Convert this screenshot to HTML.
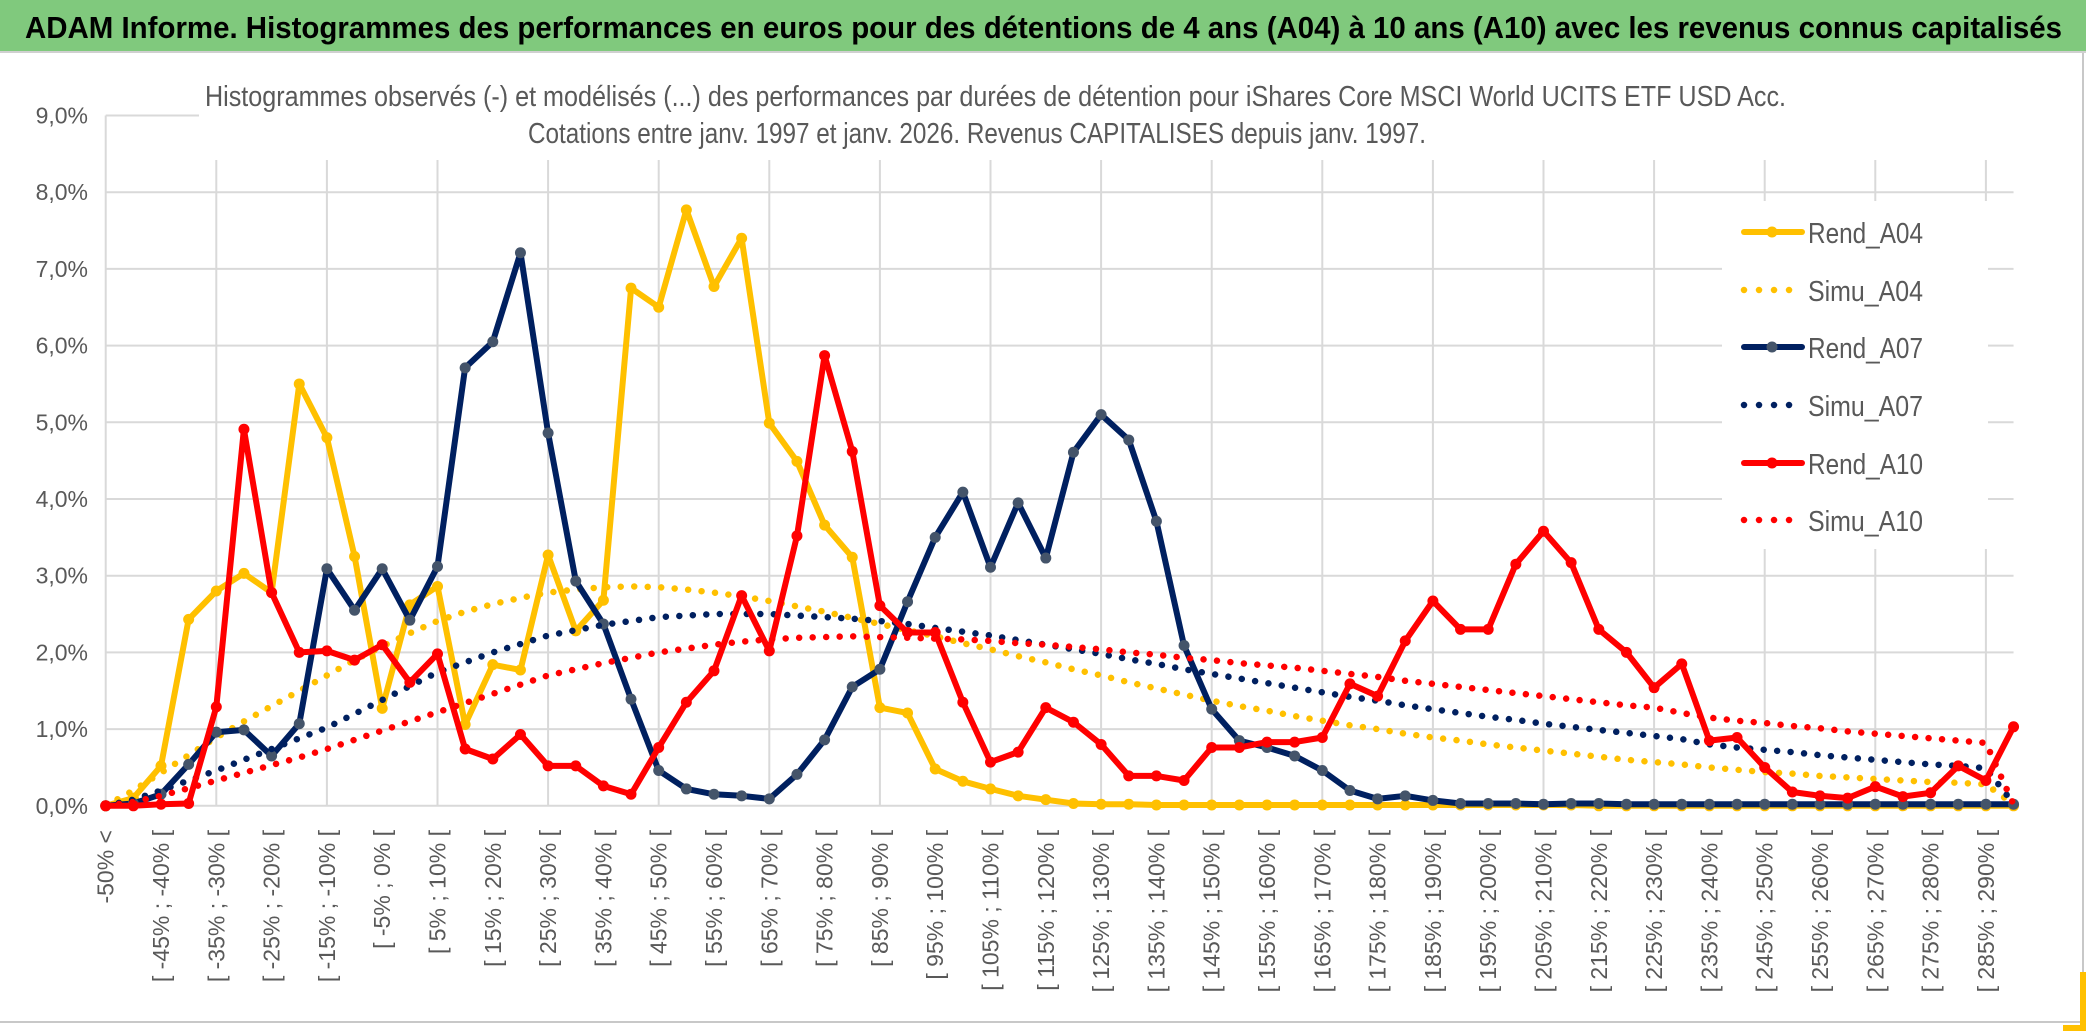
<!DOCTYPE html>
<html><head><meta charset="utf-8"><style>
html,body{margin:0;padding:0;background:#fff;}
svg{display:block;}
text{font-family:"Liberation Sans",sans-serif;}
</style></head><body>
<svg id="chart" width="2086" height="1031" viewBox="0 0 2086 1031" xmlns="http://www.w3.org/2000/svg">
<rect x="0" y="0" width="2086" height="1031" fill="#fff"/>
<rect x="0" y="0" width="2086" height="51" fill="#80c97d"/>
<line x1="0" y1="52" x2="2086" y2="52" stroke="#d0d0d0" stroke-width="2"/>
<text x="25" y="38" font-size="31" font-weight="bold" fill="#000" textLength="2037" lengthAdjust="spacingAndGlyphs">ADAM Informe. Histogrammes des performances en euros pour des détentions de 4 ans (A04) à 10 ans (A10) avec les revenus connus capitalisés</text>
<line x1="2083" y1="53" x2="2083" y2="1022" stroke="#c8c8c8" stroke-width="2"/>
<line x1="0" y1="1022" x2="2083" y2="1022" stroke="#c8c8c8" stroke-width="2"/>
<rect x="2080" y="972" width="6" height="59" fill="#ffc000"/>
<rect x="2063" y="1025" width="23" height="6" fill="#ffc000"/>
<g id="grid"></g>
<rect x="199" y="60" width="1820" height="100" fill="#fff"/>
<text x="205" y="106" font-size="29" fill="#595959" textLength="1581" lengthAdjust="spacingAndGlyphs">Histogrammes observés (-) et modélisés (...) des performances par durées de détention pour iShares Core MSCI World UCITS ETF USD Acc.</text>
<text x="528" y="143" font-size="29" fill="#595959" textLength="898" lengthAdjust="spacingAndGlyphs">Cotations entre janv. 1997 et janv. 2026. Revenus CAPITALISES depuis janv. 1997.</text>
<g id="series"></g>
<g id="axes"></g>
<g id="legend"></g>
</svg>
<script>
const categories = ["-50% <","[ -50% ; -45% [","[ -45% ; -40% [","[ -40% ; -35% [","[ -35% ; -30% [","[ -30% ; -25% [","[ -25% ; -20% [","[ -20% ; -15% [","[ -15% ; -10% [","[ -10% ; -5% [","[ -5% ; 0% [","[ 0% ; 5% [","[ 5% ; 10% [","[ 10% ; 15% [","[ 15% ; 20% [","[ 20% ; 25% [","[ 25% ; 30% [","[ 30% ; 35% [","[ 35% ; 40% [","[ 40% ; 45% [","[ 45% ; 50% [","[ 50% ; 55% [","[ 55% ; 60% [","[ 60% ; 65% [","[ 65% ; 70% [","[ 70% ; 75% [","[ 75% ; 80% [","[ 80% ; 85% [","[ 85% ; 90% [","[ 90% ; 95% [","[ 95% ; 100% [","[ 100% ; 105% [","[ 105% ; 110% [","[ 110% ; 115% [","[ 115% ; 120% [","[ 120% ; 125% [","[ 125% ; 130% [","[ 130% ; 135% [","[ 135% ; 140% [","[ 140% ; 145% [","[ 145% ; 150% [","[ 150% ; 155% [","[ 155% ; 160% [","[ 160% ; 165% [","[ 165% ; 170% [","[ 170% ; 175% [","[ 175% ; 180% [","[ 180% ; 185% [","[ 185% ; 190% [","[ 190% ; 195% [","[ 195% ; 200% [","[ 200% ; 205% [","[ 205% ; 210% [","[ 210% ; 215% [","[ 215% ; 220% [","[ 220% ; 225% [","[ 225% ; 230% [","[ 230% ; 235% [","[ 235% ; 240% [","[ 240% ; 245% [","[ 245% ; 250% [","[ 250% ; 255% [","[ 255% ; 260% [","[ 260% ; 265% [","[ 265% ; 270% [","[ 270% ; 275% [","[ 275% ; 280% [","[ 280% ; 285% [","[ 285% ; 290% [","[ 290% ; 295% ["];
const yTicks = [0,1,2,3,4,5,6,7,8,9];
const yTickLabels = ["0,0%","1,0%","2,0%","3,0%","4,0%","5,0%","6,0%","7,0%","8,0%","9,0%"];
const rendA04 = [0,0.1,0.52,2.43,2.8,3.03,2.78,5.5,4.8,3.25,1.27,2.62,2.86,1.06,1.84,1.77,3.27,2.28,2.68,6.75,6.5,7.77,6.77,7.4,4.99,4.49,3.66,3.24,1.28,1.21,0.48,0.32,0.22,0.13,0.08,0.03,0.02,0.02,0.01,0.01,0.01,0.01,0.01,0.01,0.01,0.01,0.01,0.01,0.01,0.01,0.01,0.01,0.01,0.01,0,0,0,0,0,0,0,0,0,0,0,0,0,0,0,0];
const simuA04 = [0,0.2,0.43,0.66,0.89,1.1,1.3,1.5,1.7,1.9,2.08,2.25,2.41,2.53,2.63,2.71,2.78,2.82,2.85,2.86,2.85,2.82,2.78,2.73,2.67,2.6,2.53,2.45,2.37,2.29,2.21,2.12,2.04,1.95,1.87,1.78,1.7,1.61,1.53,1.45,1.37,1.3,1.24,1.17,1.11,1.05,1.0,0.94,0.89,0.85,0.8,0.76,0.72,0.68,0.64,0.6,0.57,0.54,0.5,0.47,0.44,0.42,0.39,0.37,0.35,0.33,0.31,0.3,0.28,0.02];
const rendA07 = [0,0.03,0.15,0.54,0.96,0.99,0.65,1.07,3.09,2.55,3.09,2.42,3.12,5.71,6.05,7.21,4.86,2.93,2.37,1.39,0.46,0.22,0.15,0.13,0.09,0.41,0.86,1.55,1.78,2.66,3.5,4.09,3.11,3.95,3.23,4.61,5.1,4.77,3.71,2.09,1.26,0.85,0.76,0.65,0.46,0.2,0.09,0.13,0.07,0.03,0.03,0.03,0.02,0.03,0.03,0.02,0.02,0.02,0.02,0.02,0.02,0.02,0.02,0.02,0.02,0.02,0.02,0.02,0.02,0.02];
const simuA07 = [0,0.08,0.2,0.33,0.46,0.6,0.74,0.88,1.02,1.2,1.38,1.56,1.74,1.87,2.0,2.11,2.22,2.29,2.36,2.41,2.46,2.48,2.5,2.5,2.5,2.48,2.46,2.44,2.41,2.37,2.32,2.27,2.22,2.16,2.1,2.04,1.98,1.91,1.85,1.78,1.72,1.66,1.6,1.54,1.48,1.42,1.37,1.31,1.26,1.21,1.16,1.12,1.07,1.03,0.99,0.95,0.91,0.87,0.8,0.76,0.73,0.7,0.66,0.63,0.6,0.57,0.54,0.52,0.49,0.03];
const rendA10 = [0,0,0.02,0.03,1.29,4.91,2.78,2.0,2.02,1.9,2.1,1.61,1.98,0.74,0.61,0.93,0.52,0.52,0.26,0.15,0.76,1.35,1.76,2.74,2.02,3.52,5.87,4.62,2.61,2.26,2.26,1.35,0.57,0.7,1.28,1.09,0.8,0.39,0.39,0.33,0.76,0.76,0.83,0.83,0.89,1.59,1.43,2.15,2.67,2.3,2.3,3.15,3.58,3.17,2.3,2.0,1.54,1.85,0.85,0.89,0.5,0.18,0.13,0.1,0.25,0.12,0.17,0.52,0.33,1.03];
const simuA10 = [0,0.05,0.13,0.23,0.33,0.43,0.53,0.63,0.74,0.86,0.98,1.1,1.22,1.34,1.46,1.58,1.7,1.78,1.86,1.93,2.0,2.05,2.1,2.14,2.17,2.19,2.2,2.21,2.2,2.19,2.18,2.17,2.15,2.12,2.1,2.07,2.04,2.0,1.97,1.93,1.9,1.86,1.83,1.8,1.76,1.72,1.68,1.63,1.59,1.55,1.51,1.47,1.43,1.39,1.35,1.31,1.28,1.21,1.15,1.11,1.08,1.04,1.01,0.97,0.94,0.91,0.88,0.85,0.82,0.02];
const seriesNames = ["Rend_A04","Simu_A04","Rend_A07","Simu_A07","Rend_A10","Simu_A10"];

const NS = "http://www.w3.org/2000/svg";
const X0 = 105.7, DX = 27.65, Y0 = 805.8, DY = 76.7;
function xAt(i){ return X0 + DX * i; }
function yAt(v){ return Y0 - DY * v; }
function mk(tag, attrs, parent){
  const e = document.createElementNS(NS, tag);
  for (const k in attrs) e.setAttribute(k, attrs[k]);
  parent.appendChild(e); return e;
}
const grid = document.getElementById('grid');
const axes = document.getElementById('axes');
const series = document.getElementById('series');
const legend = document.getElementById('legend');
const xEnd = xAt(categories.length - 1);

yTicks.forEach((t, k) => {
  const gl = mk('line', {x1: X0, x2: xEnd, y1: yAt(t), y2: yAt(t), stroke: '#d9d9d9', 'stroke-width': 2}, grid);
  
  
  const tl = mk('text', {x: 88, y: yAt(t) + 8, 'font-size': 23, fill: '#595959', 'text-anchor': 'end'}, axes);
  tl.textContent = yTickLabels[k];
  
  
});
categories.forEach((c, i) => {
  if (i % 4 === 0) {
    const vl = mk('line', {x1: xAt(i), x2: xAt(i), y1: yAt(9), y2: yAt(0), stroke: '#d9d9d9', 'stroke-width': 2}, grid);
    
    
  }
  if (i % 2 === 0) {
    const x = xAt(i) + 8, y = 830;
    const lb = mk('text', {x: x, y: y, 'font-size': 23, fill: '#595959', 'text-anchor': 'end', transform: 'rotate(-90 ' + x + ' ' + y + ')'}, axes);
    lb.textContent = c;
    
    
  }
});

function pts(arr){ return arr.map((v, i) => xAt(i).toFixed(1) + ',' + yAt(v).toFixed(1)).join(' '); }
function drawRend(arr, color, mcolor, name){
  const g = mk('g', {}, series);
  
  
  mk('polyline', {points: pts(arr), fill: 'none', stroke: color, 'stroke-width': 6, 'stroke-linejoin': 'round', 'stroke-linecap': 'round'}, g);
  arr.forEach((v, i) => {
    const c = mk('circle', {cx: xAt(i), cy: yAt(v), r: 5.5, fill: mcolor}, g);
    
    
  });
}
function drawSimu(arr, color, name){
  const p = mk('polyline', {points: pts(arr), fill: 'none', stroke: color, 'stroke-width': 6.5, 'stroke-dasharray': '0.01 13.5', 'stroke-linecap': 'round'}, series);
  
  
}
drawRend(rendA04, '#ffc000', '#ffc000', 'rend-a04-line');
drawSimu(simuA04, '#ffc000', 'simu-a04-line');
drawRend(rendA07, '#002060', '#44546a', 'rend-a07-line');
drawSimu(simuA07, '#002060', 'simu-a07-line');
drawRend(rendA10, '#ff0000', '#ff0000', 'rend-a10-line');
drawSimu(simuA10, '#ff0000', 'simu-a10-line');

const lb = mk('rect', {x: 1722, y: 201, width: 266, height: 348, fill: '#fff'}, legend);


const legColors = ['#ffc000','#ffc000','#002060','#002060','#ff0000','#ff0000'];
const legMarker = ['#ffc000','','#44546a','','#ff0000',''];
const legY = [232, 290, 347, 405, 463, 520];
seriesNames.forEach((n, k) => {
  const g = mk('g', {}, legend);
  
  
  const y = legY[k];
  if (k % 2 === 0) {
    mk('line', {x1: 1744, x2: 1802, y1: y, y2: y, stroke: legColors[k], 'stroke-width': 6, 'stroke-linecap': 'round'}, g);
    mk('circle', {cx: 1772, cy: y, r: 5.5, fill: legMarker[k]}, g);
  } else {
    mk('line', {x1: 1744, x2: 1800, y1: y, y2: y, stroke: legColors[k], 'stroke-width': 6.5, 'stroke-dasharray': '0.01 15', 'stroke-linecap': 'round'}, g);
  }
  const t = mk('text', {x: 1808, y: y + 11, 'font-size': 29, fill: '#595959', textLength: 115, lengthAdjust: 'spacingAndGlyphs'}, g);
  t.textContent = n;
});
</script>
</body></html>
